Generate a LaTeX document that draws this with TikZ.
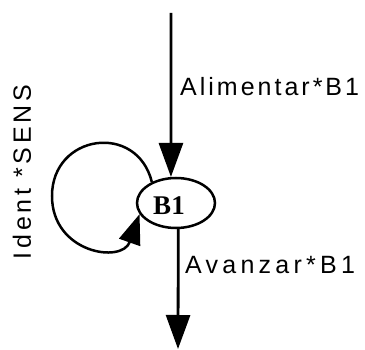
\documentclass[tikz,border=0pt]{standalone}
\usepackage{fontspec}
\setmainfont{Liberation Sans}
\newfontfamily\lblfont{Liberation Sans}
\newfontfamily\bfont{Liberation Serif}
\usetikzlibrary{shapes.geometric,arrows.meta}
\begin{document}
\begin{tikzpicture}[x=1pt,y=1pt,
  edge/.style={line width=2.8pt},
  bigtip/.style={-{Triangle[length=34pt,width=24pt]}},
  looptip/.style={-{Triangle[length=30pt,width=22pt]}},
  lbl/.style={font=\lblfont\fontsize{25}{28}\selectfont, inner sep=0pt}]
\useasboundingbox (0,0) rectangle (365,349);
\node[draw, ellipse, line width=2.5pt, minimum width=78pt, minimum height=50pt, inner sep=0pt,
  label={[xshift=-7pt,yshift=-3pt,font=\bfont\bfseries\fontsize{27}{28}\selectfont]center:B1}] (B1) at (176,146) {};
\coordinate (top) at (171,336);
\coordinate (bot) at (178,0);
\coordinate (loopL) at (52,153);
\draw[edge,bigtip] (top) -- (B1.101);
\draw[edge,bigtip] (B1.-85) -- (bot);
\draw[line width=2.5pt,looptip] (B1.139) .. controls (137,227) and (52,215) .. (loopL)
  .. controls (52,96) and (122,85) .. (B1.197);
\node[lbl, anchor=west] (l1) at (180,262) {\addfontfeature{LetterSpace=12}Alimentar*B1};
\node[lbl, anchor=west] (l2) at (185,84) {\addfontfeature{LetterSpace=17}Avanzar*B1};
\node[lbl, rotate=90] (l3) at (22,177) {\addfontfeature{LetterSpace=15}Ident *SENS};
\end{tikzpicture}
\end{document}
